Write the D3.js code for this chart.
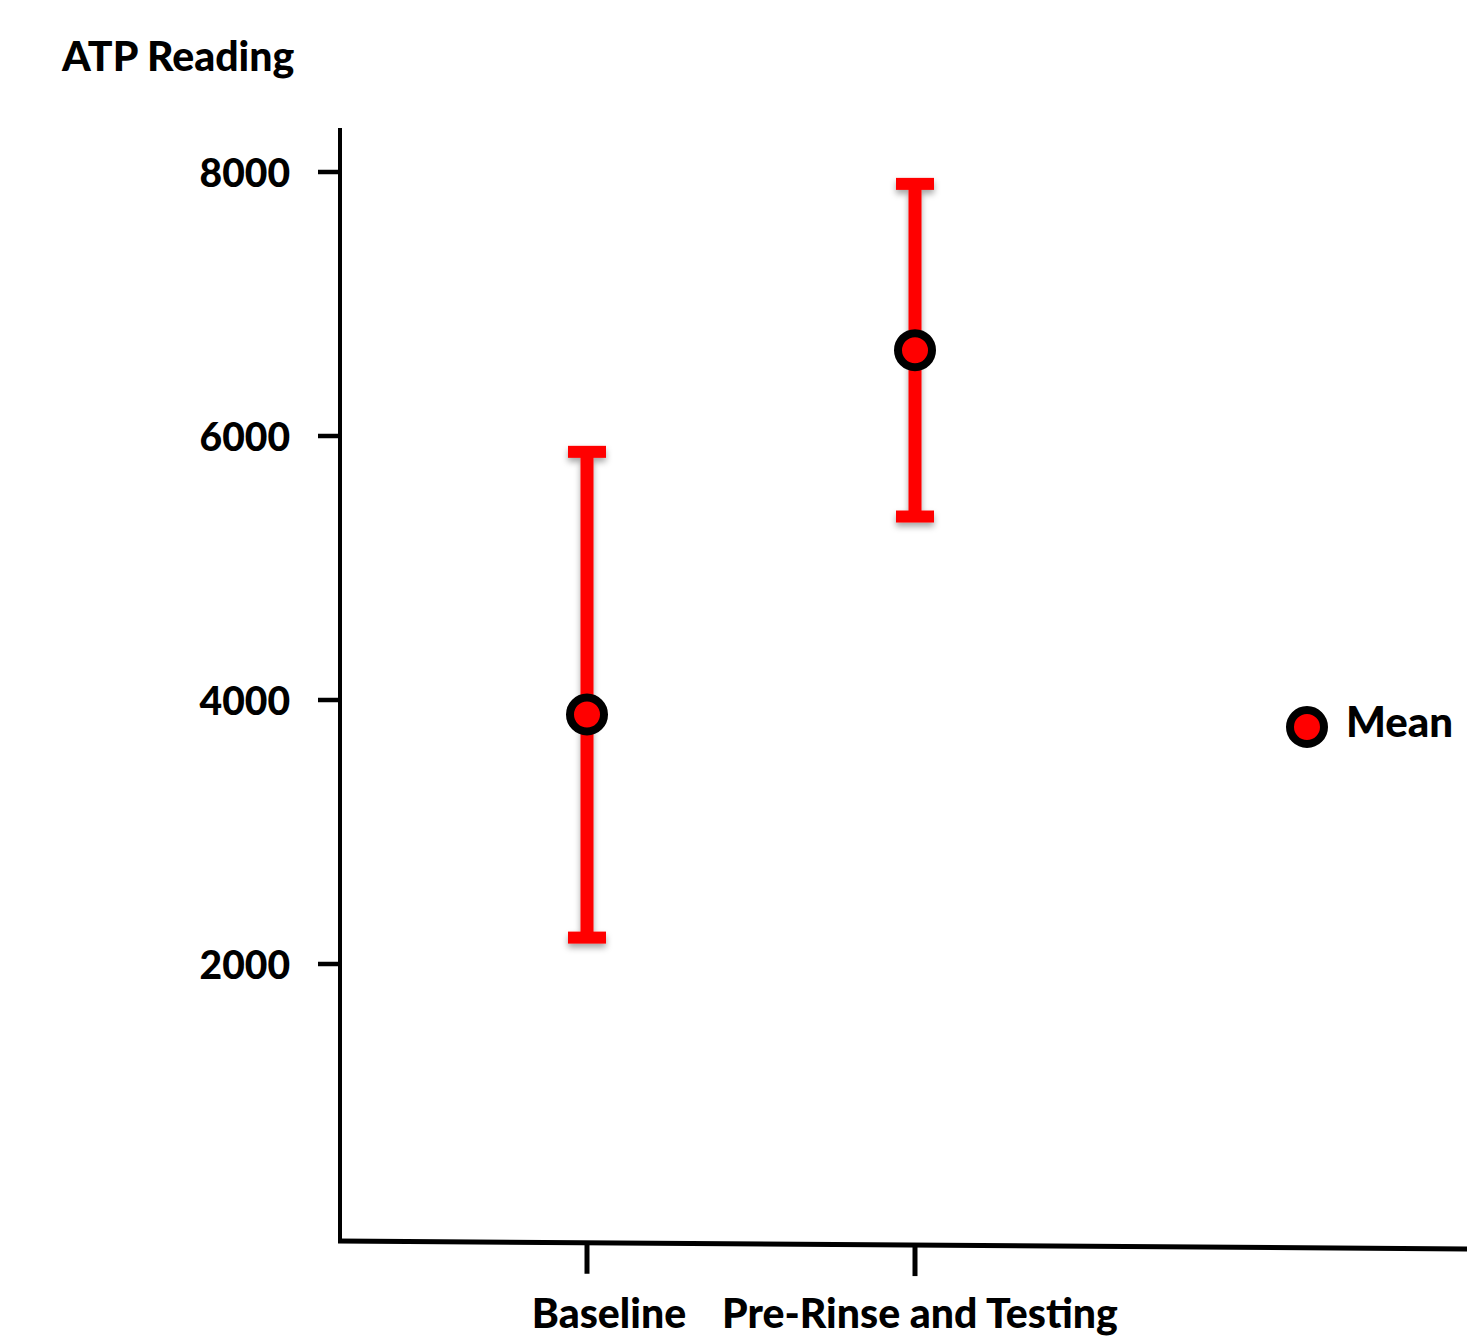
<!DOCTYPE html>
<html>
<head>
<meta charset="utf-8">
<script src="https://cdn.jsdelivr.net/npm/d3@7"></script>
<style>
  html, body { margin: 0; padding: 0; background: #fff; }
  svg { display: block; }
  text { font-family: Lato, "Open Sans", sans-serif; font-weight: 900; fill: #000; }
</style>
</head>
<body>
<svg id="chart" width="1467" height="1342"></svg>
<script>
// ---- data ----
const categories = ["Baseline", "Pre-Rinse and Testing"];
const meanValues = [3890, 6650];
const upperValues = [5880, 7910];
const lowerValues = [2200, 5390];
const yTickValues = [2000, 4000, 6000, 8000];
const yAxisTitle = "ATP Reading";
const legendLabel = "Mean";

// ---- layout ----
const svg = d3.select("#chart");
const y = d3.scaleLinear().domain([0, 8000]).range([1228, 172]);
const x = d3.scalePoint().domain(categories).range([587, 915]);
const axisX0 = 340, axisX1 = 1467;
const yTop = 128;
const baseY0 = 1241, baseY1 = 1249; // slightly sloping baseline
const baseAt = px => baseY0 + (baseY1 - baseY0) * (px - axisX0) / (axisX1 - axisX0);

const defs = svg.append("defs");
const f = defs.append("filter").attr("id", "shadow").attr("x", "-50%").attr("y", "-50%").attr("width", "200%").attr("height", "200%");
f.append("feDropShadow").attr("dx", 0).attr("dy", 4).attr("stdDeviation", 3).attr("flood-color", "#000").attr("flood-opacity", 0.35);

// y axis line
svg.append("line")
  .attr("x1", axisX0).attr("x2", axisX0)
  .attr("y1", yTop).attr("y2", baseY0 + 2)
  .attr("stroke", "#000").attr("stroke-width", 4);

// y ticks
const yAxis = svg.append("g");
yAxis.selectAll("line.tick").data(yTickValues).join("line")
  .attr("x1", 318).attr("x2", axisX0)
  .attr("y1", d => y(d)).attr("y2", d => y(d))
  .attr("stroke", "#000").attr("stroke-width", 4.5);
yAxis.selectAll("text").data(yTickValues).join("text")
  .attr("x", 290).attr("y", d => y(d))
  .attr("text-anchor", "end").attr("dominant-baseline", "central")
  .attr("font-size", 39)
  .text(d => d);

// y axis title
svg.append("text").attr("x", 62).attr("y", 71)
  .attr("font-size", 41).text(yAxisTitle);

// x axis (sloped baseline)
svg.append("line")
  .attr("x1", axisX0 - 2).attr("y1", baseY0)
  .attr("x2", axisX1).attr("y2", baseY1)
  .attr("stroke", "#000").attr("stroke-width", 5);

const labelDx = [22, 5];
const xg = svg.append("g");
xg.selectAll("line").data(categories).join("line")
  .attr("x1", d => x(d)).attr("x2", d => x(d))
  .attr("y1", d => baseAt(x(d))).attr("y2", d => baseAt(x(d)) + 31)
  .attr("stroke", "#000").attr("stroke-width", 5);
xg.selectAll("text").data(categories).join("text")
  .attr("x", (d, i) => x(d) + labelDx[i]).attr("y", 1328)
  .attr("text-anchor", "middle").attr("font-size", 41)
  .text(d => d);

// error bars
const eb = svg.append("g").attr("filter", "url(#shadow)");
categories.forEach((c, i) => {
  const cx = x(c);
  eb.append("line")
    .attr("x1", cx).attr("x2", cx)
    .attr("y1", y(upperValues[i])).attr("y2", y(lowerValues[i]))
    .attr("stroke", "#ff0000").attr("stroke-width", 13);
  [upperValues[i], lowerValues[i]].forEach(v => {
    eb.append("rect")
      .attr("x", cx - 19).attr("y", y(v) - 6)
      .attr("width", 38).attr("height", 12)
      .attr("fill", "#ff0000");
  });
});

// mean markers
svg.append("g").selectAll("circle").data(categories).join("circle")
  .attr("cx", d => x(d)).attr("cy", (d, i) => y(meanValues[i]))
  .attr("r", 17).attr("fill", "#ff0000")
  .attr("stroke", "#000").attr("stroke-width", 8);

// legend
const lg = svg.append("g");
lg.append("circle").attr("cx", 1307).attr("cy", 727).attr("r", 17)
  .attr("fill", "#ff0000").attr("stroke", "#000").attr("stroke-width", 8);
lg.append("text").attr("x", 1346).attr("y", 737).attr("font-size", 42).text(legendLabel);
</script>
</body>
</html>
